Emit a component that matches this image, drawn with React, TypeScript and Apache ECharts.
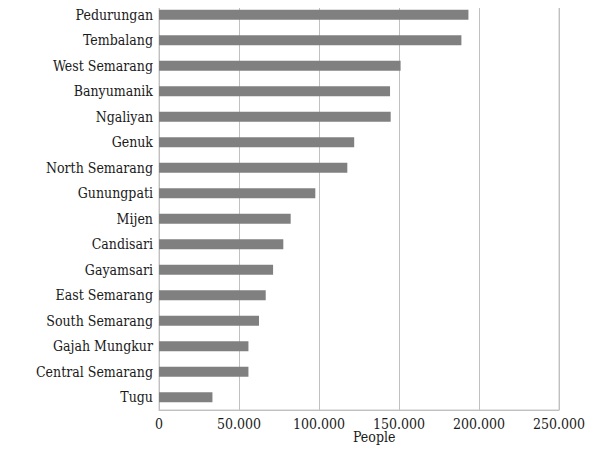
import React, { useEffect, useRef } from "react";
import * as echarts from "echarts";

const categories = [
  "Pedurungan", "Tembalang", "West Semarang", "Banyumanik", "Ngaliyan", "Genuk",
  "North Semarang", "Gunungpati", "Mijen", "Candisari", "Gayamsari", "East Semarang",
  "South Semarang", "Gajah Mungkur", "Central Semarang", "Tugu",
];
const people = [
  193400, 189000, 151000, 144400, 144800, 122000, 117700, 97700, 82300, 77700,
  71300, 66700, 62500, 55900, 55900, 33400,
];
const xTicks = [0, 50000, 100000, 150000, 200000, 250000];
const axisTitle = "People";

const FONT = "'DejaVu Serif Condensed', 'Liberation Serif', serif";

export default function App() {
  const ref = useRef<HTMLDivElement>(null);
  useEffect(() => {
    const chart = echarts.init(ref.current!, null, { renderer: "svg" });
    chart.setOption({
      animation: false,
      grid: {
        left: 159, right: 43, top: 2, bottom: 43,
        show: true, borderColor: "#c8c8c8", borderWidth: 1,
      },
      xAxis: {
        type: "value",
        min: xTicks[0],
        max: xTicks[xTicks.length - 1],
        interval: 50000,
        axisLine: { show: true, lineStyle: { color: "#c0c0c0" } },
        axisTick: { show: false },
        splitLine: { show: true, lineStyle: { color: "#c0c0c0" } },
        axisLabel: {
          color: "#1a1a1a",
          fontFamily: FONT,
          fontSize: 14,
          margin: 7,
          formatter: (v: number) =>
            v === 0 ? "0" : (v / 1000).toFixed(0) + ".000",
        },
      },
      yAxis: {
        type: "category",
        data: categories,
        inverse: true,
        axisLine: { show: true, lineStyle: { color: "#c0c0c0" } },
        axisTick: { show: false },
        axisLabel: {
          color: "#1a1a1a",
          fontFamily: FONT,
          fontSize: 14,
          margin: 6,
        },
      },
      graphic: [
        {
          type: "text",
          left: 353,
          top: 430,
          style: { text: axisTitle, fill: "#1a1a1a", font: `14px ${FONT}` },
        },
      ],
      series: [
        {
          type: "bar",
          data: people,
          barWidth: "40%",
          itemStyle: { color: "#808080" },
        },
      ],
    });
    return () => chart.dispose();
  }, []);
  return <div ref={ref} style={{ width: 602, height: 453, margin: -8 }} />;
}
